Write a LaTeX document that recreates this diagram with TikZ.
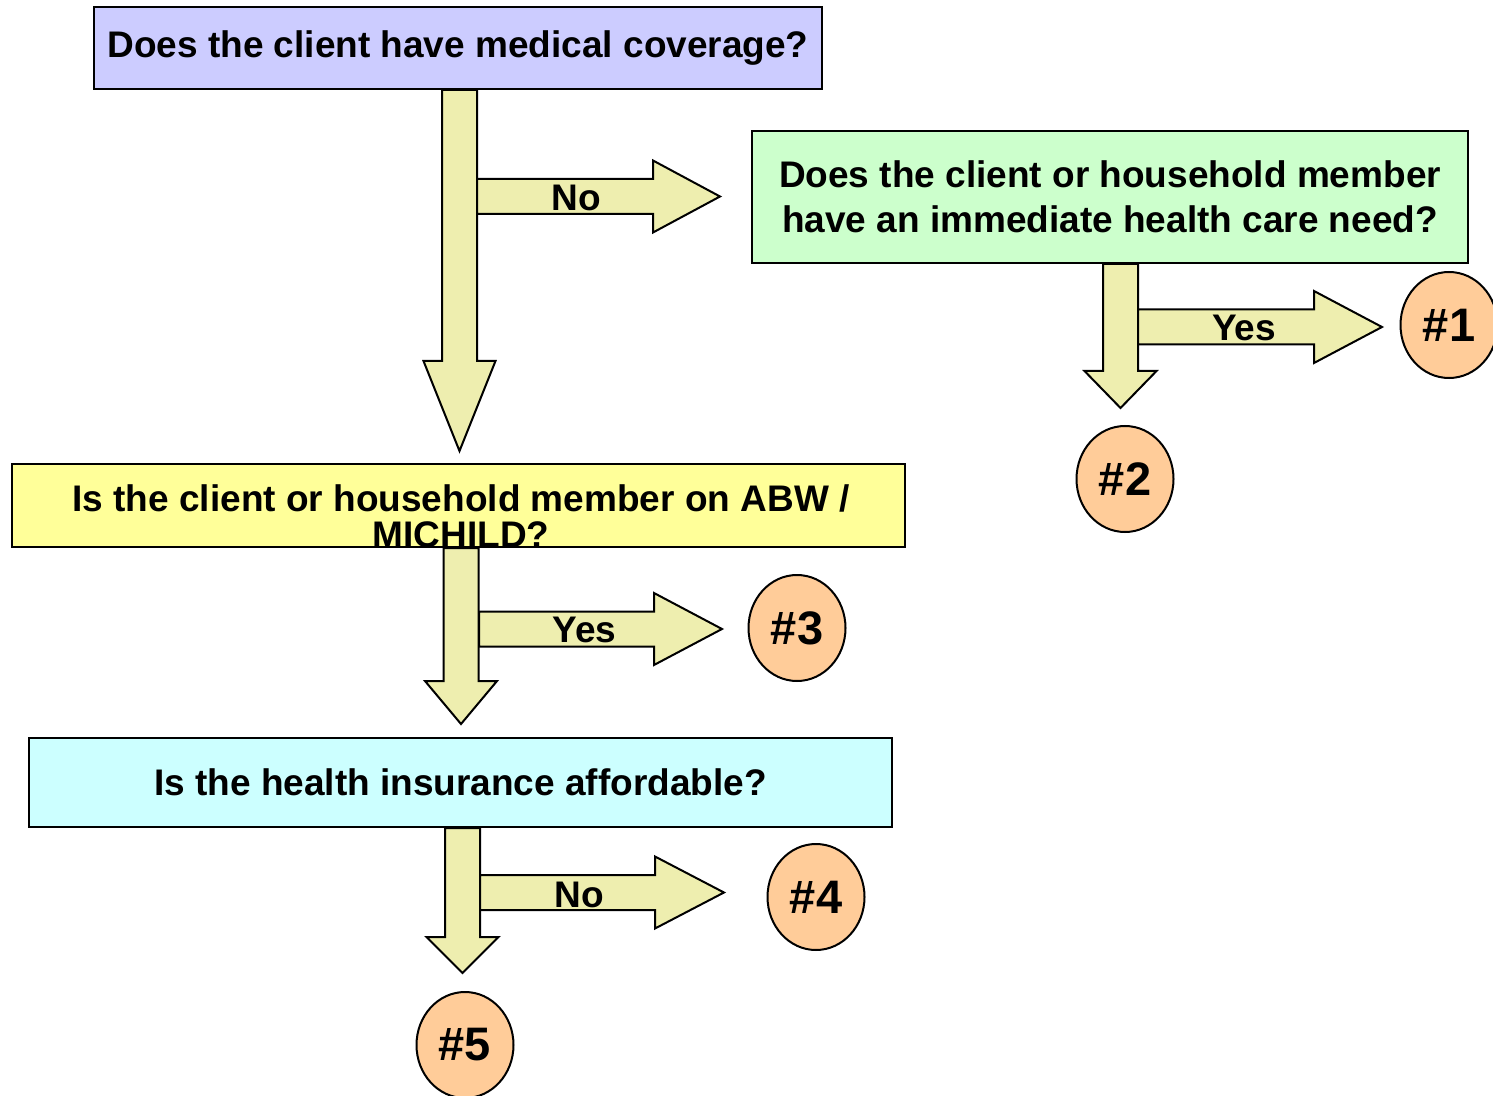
\documentclass[tikz,border=0pt]{standalone}
\usepackage{fontspec}
\setmainfont{Liberation Sans}
\usepackage{xcolor}
\usepackage{tikz}
\definecolor{qblue}{HTML}{CCCCFF}
\definecolor{qgreen}{HTML}{CCFFCC}
\definecolor{qyellow}{HTML}{FFFF99}
\definecolor{qcyan}{HTML}{CCFFFF}
\definecolor{arrowfill}{HTML}{EEEEAF}
\definecolor{outfill}{HTML}{FFCC99}
\tikzset{>=latex,
    question/.style={draw=black, line width=1pt, inner sep=0pt, align=center,
      font=\fontsize{18.5}{22.5}\selectfont\bfseries},
    outcome/.style={draw=black, line width=1pt, fill=outfill, ellipse, inner sep=0pt,
      minimum width=48.5pt, minimum height=53pt,
      font=\fontsize{23.5}{28}\selectfont\bfseries},
    blockarrow/.style={draw=black, line width=1pt, fill=arrowfill, line join=miter},
    answer/.style={inner sep=0pt, font=\fontsize{18.5}{22.5}\selectfont\bfseries}}
\usetikzlibrary{calc,shapes.geometric}

% #1 start, #2 tip, #3 head length
\newcommand{\downblock}[3]{%
  \draw[blockarrow] let \p1=(#1), \p2=(#2) in
    (\x1-8.75pt,\y1) -- (\x1-8.75pt,\y2+#3) -- (\x1-18pt,\y2+#3) -- (\x1,\y2)
    -- (\x1+18pt,\y2+#3) -- (\x1+8.75pt,\y2+#3) -- (\x1+8.75pt,\y1) -- cycle;}
\newcommand{\rightblock}[3]{%
  \draw[blockarrow] let \p1=(#1), \p2=(#2) in
    (\x1,\y1+8.75pt) -- (\x2-#3,\y1+8.75pt) -- (\x2-#3,\y1+18pt) -- (\x2,\y1)
    -- (\x2-#3,\y1-18pt) -- (\x2-#3,\y1-8.75pt) -- (\x1,\y1-8.75pt) -- cycle;}

\begin{document}
\begin{tikzpicture}[x=0.5pt, y=-0.5pt]
    \useasboundingbox (0,0) rectangle (1493,1096);

    % questions
    \node[question, fill=qblue, minimum width=364pt, minimum height=41pt] (q1) at (458,48)
      {Does the client have medical coverage?};
    \node[question, fill=qgreen, minimum width=358pt, minimum height=66pt] (q2) at (1110,197)
      {Does the client or household member\\have an immediate health care need?};
    \node[question, fill=qyellow, minimum width=446.5pt, minimum height=41.5pt] (q3) at (458.5,505.5) {};
    \node[question, fill=qcyan, minimum width=431.5pt, minimum height=44.5pt] (q4) at (460.5,782.5)
      {Is the health insurance affordable?};

    % outcomes
    \node[outcome] (o1) at (1449,325) {\#1};
    \node[outcome] (o2) at (1125,479) {\#2};
    \node[outcome] (o3) at (797,628) {\#3};
    \node[outcome] (o4) at (816,897) {\#4};
    \node[outcome] (o5) at (465,1045) {\#5};

    % arrow ends
    \coordinate (t1) at (459.5,451);
    \coordinate (t2) at (1120.5,408);
    \coordinate (t3) at (461,724);
    \coordinate (t4) at (462.5,973);
    \coordinate (s1) at (477,196.5);   \coordinate (r1) at (720,196.5);
    \coordinate (s2) at (1138,327);    \coordinate (r2) at (1382,327);
    \coordinate (s3) at (479,629);     \coordinate (r3) at (722,629);
    \coordinate (s4) at (480,892.5);   \coordinate (r4) at (724,892.5);

    \downblock{q1.south -| t1}{t1}{45pt}
    \rightblock{s1}{r1}{33.5pt}
    \downblock{q2.south -| t2}{t2}{18.5pt}
    \rightblock{s2}{r2}{34pt}
    \downblock{q3.south -| t3}{t3}{21.5pt}
    \rightblock{s3}{r3}{34pt}
    \downblock{q4.south -| t4}{t4}{18pt}
    \rightblock{s4}{r4}{34.5pt}

    \node[answer] (l1) at ($(s1)!0.5!(r1)+(-22,1)$) {No};
    \node[answer] (l2) at ($(s2)!0.5!(r2)+(-16,1)$) {Yes};
    \node[answer] (l3) at ($(s3)!0.5!(r3)+(-16,1)$) {Yes};
    \node[answer] (l4) at ($(s4)!0.5!(r4)+(-23,2)$) {No};

    % text of q3 runs over its lower edge
    \node[question, draw=none, font=\fontsize{18.5}{18}\selectfont\bfseries] (q3t) at (461,516)
      {Is the client or household member on ABW /\\MICHILD?};
\end{tikzpicture}
\end{document}
